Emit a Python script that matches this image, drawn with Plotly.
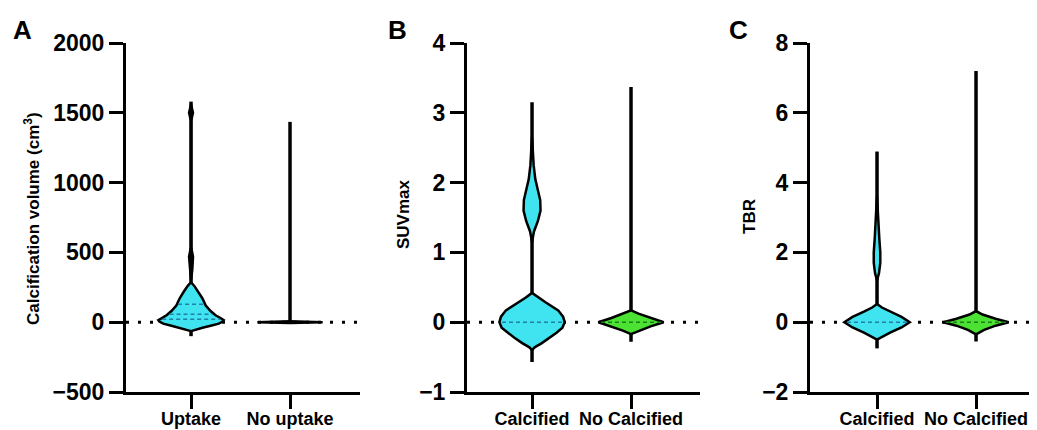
import numpy as np
import plotly.graph_objects as go

# ---------------- data ----------------
panel_letters = ["A", "B", "C"]
y_titles = ["Calcification volume (cm<sup>3</sup>)", "SUVmax", "TBR"]
categories_A = ["Uptake", "No uptake"]
categories_BC = ["Calcified", "No Calcified"]
y_ranges = [[-500, 2000], [-1, 4], [-2, 8]]
y_ticks = [[-500, 0, 500, 1000, 1500, 2000], [-1, 0, 1, 2, 3, 4], [-2, 0, 2, 4, 6, 8]]

# violin density profiles: value levels and relative half-widths (0..1)
A_up_y = [-64, -55, -40, -25, -10, 5, 15, 30, 50, 80, 120, 170, 220, 260, 286]
A_up_w = [0.0, 0.12, 0.35, 0.6, 0.85, 0.97, 1.0, 0.9, 0.75, 0.6, 0.45, 0.35, 0.22, 0.1, 0.0]
A_up_y2 = [300, 380, 470, 540, 1440, 1500, 1560]
A_up_w2 = [0.0, 0.04, 0.06, 0.0, 0.0, 0.06, 0.0]
A_up_range = [-100, 1580]
A_up_quart = [21, 57, 129]

A_no_y = [-6, 0, 6]
A_no_w = [0.0, 1.0, 0.0]
A_no_range = [-6, 1435]
A_no_quart = []

B_ca_y = [-0.4, -0.36, -0.3, -0.22, -0.15, -0.08, 0, 0.08, 0.17, 0.29, 0.35, 0.42]
B_ca_w = [0.0, 0.08, 0.3, 0.55, 0.75, 0.93, 1.0, 0.95, 0.8, 0.4, 0.2, 0.0]
B_ca_y2 = [1.15, 1.3, 1.45, 1.6, 1.75, 1.9, 2.05, 2.25, 2.5, 2.65]
B_ca_w2 = [0.0, 0.06, 0.18, 0.26, 0.25, 0.18, 0.1, 0.05, 0.02, 0.0]
B_ca_range = [-0.57, 3.15]
B_ca_quart = [0.0]

B_no_y = [-0.17, -0.12, -0.06, 0, 0.06, 0.12, 0.17]
B_no_w = [0.0, 0.25, 0.6, 1.0, 0.6, 0.25, 0.0]
B_no_range = [-0.28, 3.37]
B_no_quart = [0.0]

C_ca_y = [-0.5, -0.42, -0.3, -0.15, 0, 0.15, 0.3, 0.42, 0.52]
C_ca_w = [0.0, 0.15, 0.4, 0.75, 1.0, 0.75, 0.4, 0.15, 0.0]
C_ca_y2 = [1.2, 1.4, 1.7, 2.0, 2.4, 2.8, 3.3, 3.6]
C_ca_w2 = [0.0, 0.06, 0.1, 0.1, 0.07, 0.04, 0.02, 0.0]
C_ca_range = [-0.75, 4.89]
C_ca_quart = [0.0]

C_no_y = [-0.35, -0.22, -0.1, 0, 0.1, 0.22, 0.32]
C_no_w = [0.0, 0.25, 0.6, 1.0, 0.6, 0.2, 0.0]
C_no_range = [-0.55, 7.2]
C_no_quart = [0.0]

CYAN = "#40E4F0"
GREEN = "#4CE234"
CYAN_D = "#1F7FA8"
GREEN_D = "#1E7A1E"

# ---------------- layout geometry ----------------
# page body has an 8px margin, so the figure is sized/offset to land in place
OFF = 8
W, H = 1037 - OFF, 430 - OFF
axis_px = [(126, 360), (467, 700), (810, 1037)]
y_top_px, y_bot_px = 43, 392
x_ranges = [[-0.657, 1.707], [-0.657, 1.697], [-0.677, 1.616]]
MAXW = 0.33  # max half-width in category units
title_px = [(32, 219), (403, 214), (750, 217)]
letter_px = [(22, 30), (397, 30), (738, 30)]

panels = [
    [(A_up_y, A_up_w, A_up_y2, A_up_w2, A_up_range, A_up_quart, CYAN, CYAN_D, "black"),
     (A_no_y, A_no_w, None, None, A_no_range, A_no_quart, GREEN, GREEN_D, None)],
    [(B_ca_y, B_ca_w, B_ca_y2, B_ca_w2, B_ca_range, B_ca_quart, CYAN, CYAN_D, CYAN),
     (B_no_y, B_no_w, None, None, B_no_range, B_no_quart, GREEN, GREEN_D, None)],
    [(C_ca_y, C_ca_w, C_ca_y2, C_ca_w2, C_ca_range, C_ca_quart, CYAN, CYAN_D, CYAN),
     (C_no_y, C_no_w, None, None, C_no_range, C_no_quart, GREEN, GREEN_D, None)],
]
cat_lists = [categories_A, categories_BC, categories_BC]

fig = go.Figure()
FONT = "Liberation Sans, Arial, sans-serif"


def add_body(xa, ya, pos, ys, ws, fill, lw=2.5):
    ys = np.asarray(ys, float)
    ws = np.asarray(ws, float) * MAXW
    xs = np.concatenate([pos + ws, (pos - ws)[::-1]])
    yy = np.concatenate([ys, ys[::-1]])
    fig.add_trace(go.Scatter(x=xs, y=yy, mode="lines", fill="toself", fillcolor=fill,
                             line=dict(color="black", width=lw), xaxis=xa, yaxis=ya,
                             showlegend=False, hoverinfo="skip"))


for i in range(3):
    xa = "x" if i == 0 else f"x{i+1}"
    ya = "y" if i == 0 else f"y{i+1}"
    for j, (ys, ws, ys2, ws2, rng, quart, fill, dark, fill2) in enumerate(panels[i]):
        pos = float(j)
        fig.add_trace(go.Scatter(x=[pos, pos], y=rng, mode="lines",
                                 line=dict(color="black", width=3.5), xaxis=xa, yaxis=ya,
                                 showlegend=False, hoverinfo="skip"))
        add_body(xa, ya, pos, ys, ws, fill)
        if ys2 is not None:
            add_body(xa, ya, pos, ys2, ws2, fill2, lw=2.5)
        for q in quart:
            hw = float(np.interp(q, ys, ws)) * MAXW * 0.92
            fig.add_trace(go.Scatter(x=[pos - hw, pos + hw], y=[q, q], mode="lines",
                                     line=dict(color=dark, width=1.5, dash="4px,3px"),
                                     xaxis=xa, yaxis=ya, showlegend=False, hoverinfo="skip"))

    x0, x1 = axis_px[i]
    xkey = "xaxis" if i == 0 else f"xaxis{i+1}"
    ykey = "yaxis" if i == 0 else f"yaxis{i+1}"
    fig.layout[xkey] = dict(
        domain=[(x0 - OFF) / W, min(1.0, (x1 - OFF) / W)], range=x_ranges[i], anchor=ya,
        automargin=False,
        tickvals=[0, 1], ticktext=cat_lists[i], ticks="outside", ticklen=14, tickwidth=3,
        ticklabelstandoff=-6,
        tickcolor="black", showline=True, linewidth=3, linecolor="black",
        showgrid=False, zeroline=False, fixedrange=True,
        tickfont=dict(family=FONT, size=18, color="black", weight="bold"))
    fig.layout[ykey] = dict(
        domain=[(430 - y_bot_px) / H, (430 - y_top_px) / H], range=y_ranges[i], anchor=xa,
        automargin=False,
        tickvals=y_ticks[i], ticks="outside", ticklen=14, tickwidth=3, tickcolor="black",
        showline=True, linewidth=3, linecolor="black", showgrid=False, zeroline=False,
        tickfont=dict(family=FONT, size=23, color="black", weight="bold"))
    fig.add_shape(type="line", xref=f"{xa} domain", yref=ya, x0=0, x1=1, y0=0, y1=0,
                  line=dict(color="black", width=3, dash="3px,9px"), layer="below")
    tx, ty = title_px[i]
    fig.add_annotation(text=y_titles[i], xref="paper", yref="paper",
                       x=(tx - OFF) / W, y=(H - (ty - OFF)) / H, showarrow=False,
                       textangle=-90, xanchor="center", yanchor="middle",
                       font=dict(family=FONT, size=17, color="black", weight="bold"))
    lx, ly = letter_px[i]
    fig.add_annotation(text=panel_letters[i], xref="paper", yref="paper",
                       x=(lx - OFF) / W, y=(H - (ly - OFF)) / H, showarrow=False,
                       xanchor="center", yanchor="middle",
                       font=dict(family=FONT, size=26, color="black", weight="bold"))

fig.update_layout(width=W, height=H, margin=dict(l=0, r=0, t=0, b=0),
                  paper_bgcolor="white", plot_bgcolor="white", showlegend=False)
fig.write_html("out.html")
